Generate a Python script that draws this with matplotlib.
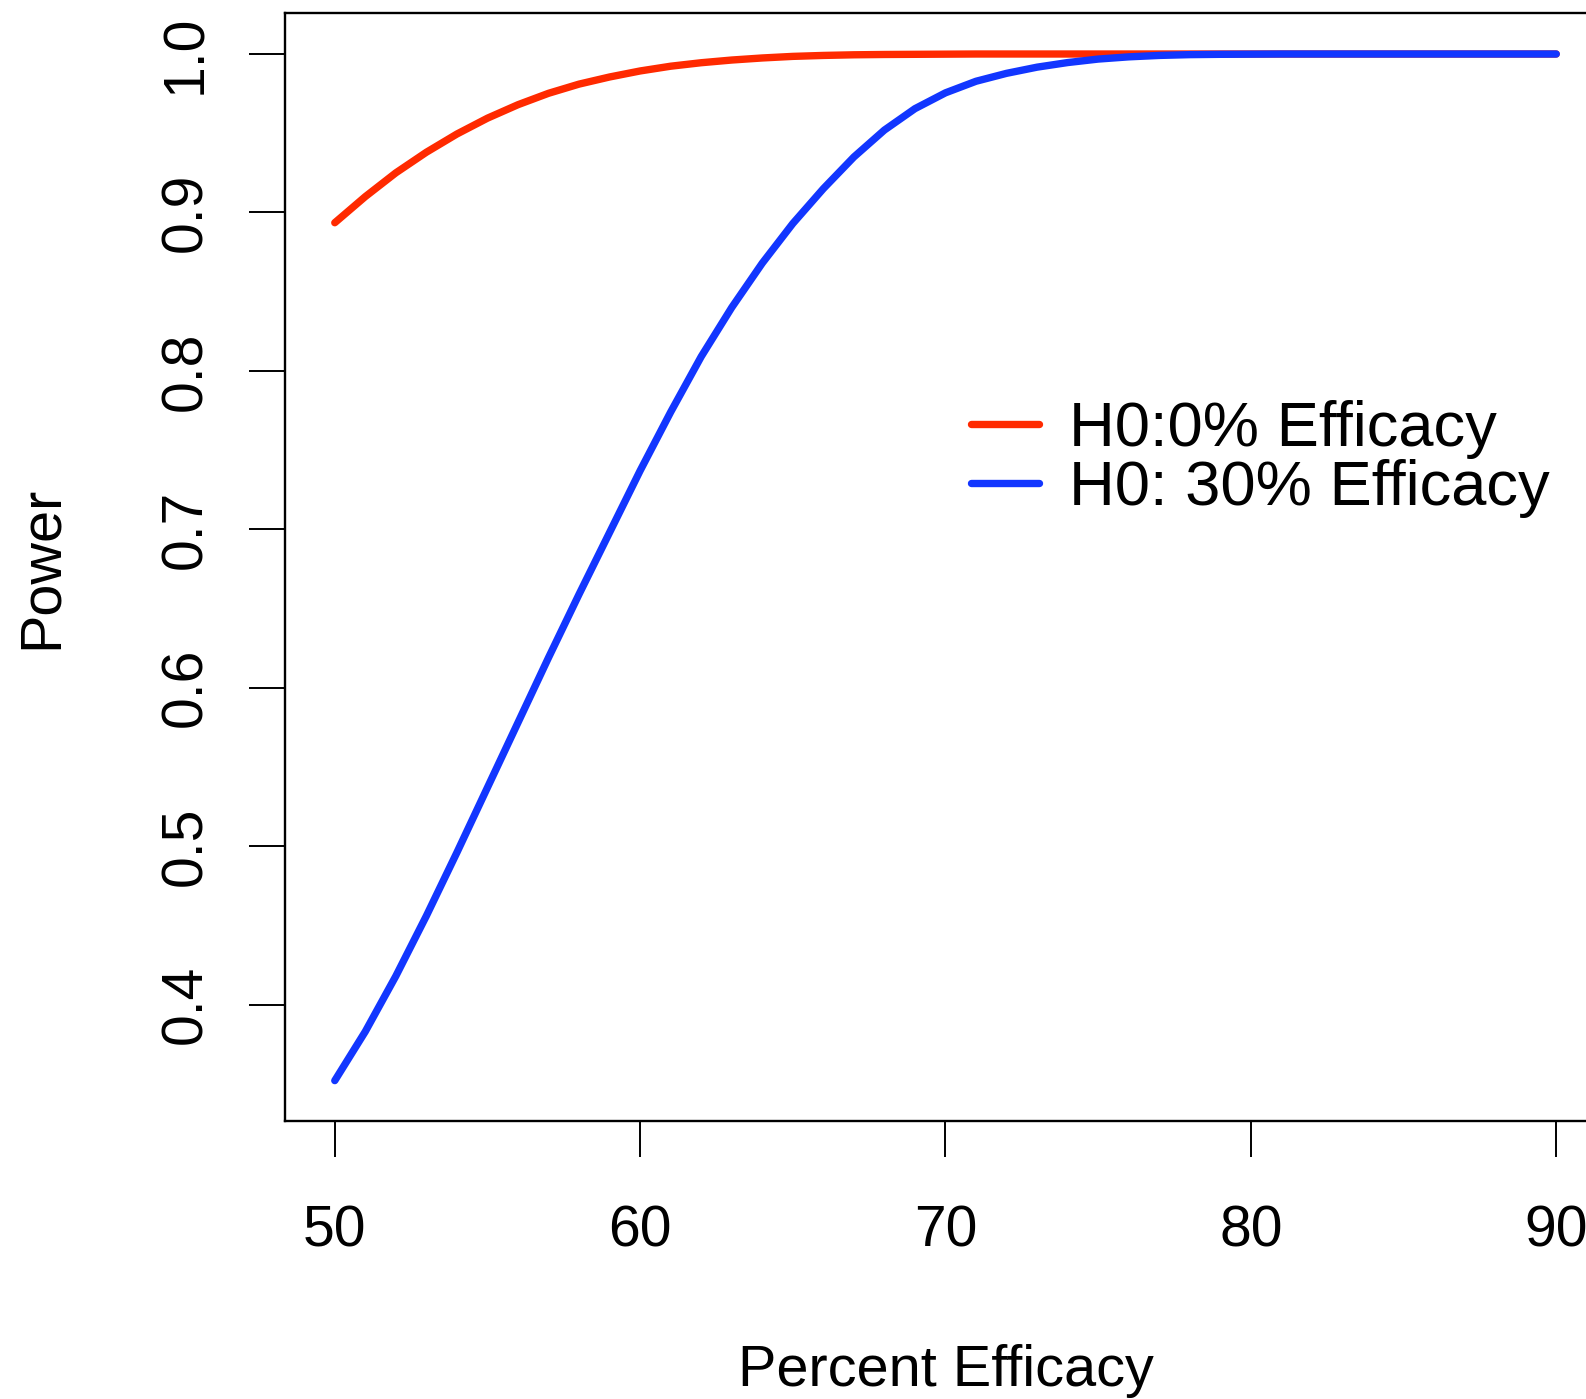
import numpy as np
import matplotlib
matplotlib.use("Agg")
import matplotlib.pyplot as plt

plt.rcParams['font.family'] = ['Liberation Sans', 'DejaVu Sans']

# Percent efficacy grid and power
efficacy = list(range(50, 91))
power_h0_0 = [0.8935, 0.910, 0.925, 0.938, 0.9495, 0.9595, 0.968, 0.9752, 0.981, 0.9855,
              0.9893, 0.9923, 0.9945, 0.9962, 0.9975, 0.9985, 0.9991, 0.9995, 0.9997, 0.9998,
              0.9999] + [1.0] * 20
power_h0_30 = [0.352, 0.383, 0.418, 0.456, 0.496, 0.537, 0.578, 0.619, 0.659, 0.698,
               0.737, 0.774, 0.809, 0.840, 0.868, 0.893, 0.915, 0.935, 0.952, 0.9655,
               0.9755, 0.9828, 0.9878, 0.9917, 0.9946, 0.9968, 0.9982, 0.9991, 0.9996, 0.9998,
               0.9999] + [1.0] * 10

labels = ['H0:0% Efficacy', 'H0: 30% Efficacy']
colors = ['#FF2A00', '#1236FF']

x_ticks = [50, 60, 70, 80, 90]
y_ticks = [0.4, 0.5, 0.6, 0.7, 0.8, 0.9, 1.0]

fig = plt.figure(figsize=(15.86, 13.99), dpi=100)
ax = fig.add_axes([0.1797, 0.1987, 1.0126 - 0.1797, 0.9905 - 0.1987])

ax.plot(efficacy, power_h0_0, color=colors[0], lw=5.3, solid_capstyle='round',
        solid_joinstyle='round', label=labels[0])
ax.plot(efficacy, power_h0_30, color=colors[1], lw=5.3, solid_capstyle='round',
        solid_joinstyle='round', label=labels[1])

# R-style 4% padding of the data range
ax.set_xlim(48.37, 91.63)
ax.set_ylim(0.3265, 1.0257)

ax.set_xticks(x_ticks)
ax.set_xticklabels([str(t) for t in x_ticks])
ax.set_yticks(y_ticks)
ax.set_yticklabels(['%.1f' % t for t in y_ticks], rotation=90, va='center')

ax.tick_params(axis='both', direction='out', length=26, width=1.4, labelsize=41)
ax.tick_params(axis='x', pad=34)
ax.tick_params(axis='y', pad=25.5)
for s in ax.spines.values():
    s.set_linewidth(1.7)

ax.set_xlabel('Percent Efficacy', fontsize=41.5, labelpad=62)
ax.set_ylabel('Power', fontsize=41.5, labelpad=65.5)

leg = ax.legend(loc='center left', bbox_to_anchor=(0.519, 0.5975), frameon=False,
                fontsize=45.5, handlelength=1.09, handletextpad=0.47,
                labelspacing=0.0, borderpad=0, borderaxespad=0)
for h in leg.get_lines():
    h.set_linewidth(5.3)

fig.savefig('out.png', dpi=100)
